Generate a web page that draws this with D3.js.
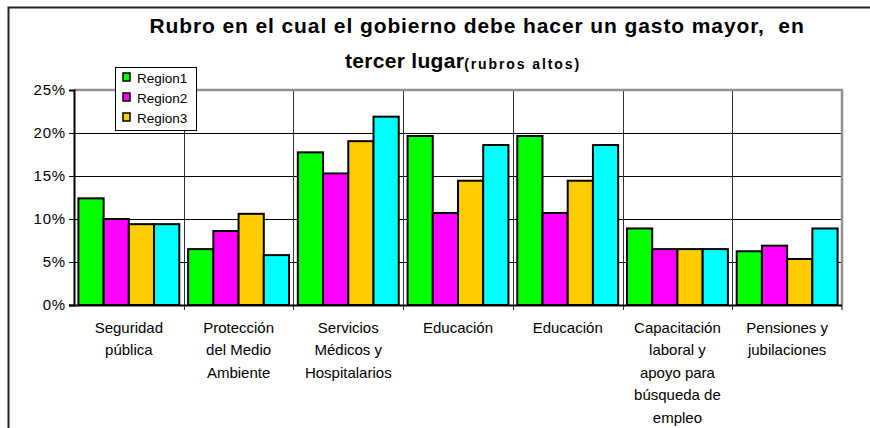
<!DOCTYPE html>
<html>
<head>
<meta charset="utf-8">
<script src="https://cdn.jsdelivr.net/npm/d3@7"></script>
<style>
  html, body { margin: 0; padding: 0; background: #fff; }
  svg { display: block; }
  text { font-family: "Liberation Sans", Arial, sans-serif; }
</style>
</head>
<body>
<script>
// Categories (x axis), one entry per group of bars
const categories = [
  ["Seguridad", "pública"],
  ["Protección", "del Medio", "Ambiente"],
  ["Servicios", "Médicos y", "Hospitalarios"],
  ["Educación"],
  ["Educación"],
  ["Capacitación", "laboral y", "apoyo para", "búsqueda de", "empleo"],
  ["Pensiones y", "jubilaciones"]
];

// Series values, in percent
const region1 = [12.4, 6.5, 17.75, 19.65, 19.65, 8.9, 6.25];
const region2 = [10.0, 8.6, 15.3, 10.7, 10.7, 6.5, 6.9];
const region3 = [9.4, 10.6, 19.05, 14.45, 14.45, 6.5, 5.35];
const region4 = [9.4, 5.8, 21.9, 18.6, 18.6, 6.5, 8.9];

const seriesNames = ["Region1", "Region2", "Region3", "Region4"];
const seriesColors = ["#00ff00", "#ff00ff", "#ffcc00", "#00ffff"];
const legendNames = ["Region1", "Region2", "Region3"];

const yTicks = [0, 5, 10, 15, 20, 25];

const W = 870, H = 428;
const plot = { left: 74, right: 842, top: 90, bottom: 305 };

const svg = d3.select("body").append("svg")
  .attr("width", W).attr("height", H);

// outer frame
svg.append("path")
  .attr("d", `M8.5,${H + 2} L8.5,7.5 L${W + 2},7.5`)
  .attr("fill", "none").attr("stroke", "#222").attr("stroke-width", 2);

const series = [region1, region2, region3, region4];
const idx = d3.range(categories.length);

const x0 = d3.scaleBand().domain(idx)
  .range([plot.left, plot.right]).paddingInner(0).paddingOuter(0);
const x1 = d3.scaleBand().domain(d3.range(series.length))
  .range([0, x0.bandwidth()]).paddingInner(0).paddingOuter(0.175);
const y = d3.scaleLinear().domain([0, 25]).range([plot.bottom, plot.top]);

// horizontal gridlines
svg.append("g").selectAll("line").data(yTicks.filter(t => t > 0 && t < 25)).join("line")
  .attr("x1", plot.left).attr("x2", plot.right)
  .attr("y1", d => Math.round(y(d)) + 0.5).attr("y2", d => Math.round(y(d)) + 0.5)
  .attr("stroke", "#000").attr("stroke-width", 1);

// vertical category separators
svg.append("g").selectAll("line").data(idx.slice(1)).join("line")
  .attr("x1", d => Math.round(x0(d)) + 0.5).attr("x2", d => Math.round(x0(d)) + 0.5)
  .attr("y1", plot.top).attr("y2", plot.bottom + 5)
  .attr("stroke", "#333").attr("stroke-width", 1);

// plot area border (top and right)
svg.append("path")
  .attr("d", `M${plot.left},${plot.top} L${plot.right},${plot.top} L${plot.right},${plot.bottom}`)
  .attr("fill", "none").attr("stroke", "#909090").attr("stroke-width", 2.5);

// bars
const groups = svg.append("g").selectAll("g").data(idx).join("g")
  .attr("transform", d => `translate(${x0(d)},0)`);
groups.selectAll("rect")
  .data(c => series.map((s, k) => ({ k, v: s[c] })))
  .join("rect")
  .attr("x", d => x1(d.k))
  .attr("width", x1.bandwidth())
  .attr("y", d => y(d.v))
  .attr("height", d => y(0) - y(d.v))
  .attr("fill", d => seriesColors[d.k])
  .attr("stroke", "#000").attr("stroke-width", 2);

// y axis
const yAxis = d3.axisLeft(y).tickValues(yTicks).tickFormat(d => d + "%").tickSize(5).tickPadding(3);
const gy = svg.append("g").attr("transform", `translate(${plot.left},0)`).call(yAxis);
gy.select(".domain").attr("stroke", "#000").attr("stroke-width", 2);
gy.selectAll(".tick line").attr("stroke", "#000");
gy.selectAll(".tick text").attr("font-size", 15).attr("fill", "#000")
  .style("font-family", "'Liberation Sans', Arial, sans-serif").attr("letter-spacing", 0.8);

// x axis line
svg.append("line")
  .attr("x1", plot.left - 5).attr("x2", plot.right)
  .attr("y1", plot.bottom + 0.5).attr("y2", plot.bottom + 0.5)
  .attr("stroke", "#000").attr("stroke-width", 2);
svg.append("line")
  .attr("x1", plot.right).attr("x2", plot.right)
  .attr("y1", plot.bottom).attr("y2", plot.bottom + 5)
  .attr("stroke", "#000").attr("stroke-width", 1);

// category labels
const lab = svg.append("g").selectAll("text").data(idx).join("text")
  .attr("text-anchor", "middle")
  .attr("font-size", 15)
  .attr("fill", "#000")
  .attr("x", d => x0(d) + x0.bandwidth() / 2)
  .attr("y", 333);
lab.selectAll("tspan").data(d => categories[d].map(t => ({ t, x: x0(d) + x0.bandwidth() / 2 })))
  .join("tspan")
  .attr("x", d => d.x)
  .attr("dy", (d, i) => i === 0 ? 0 : 22.4)
  .text(d => d.t);

// title
const title = svg.append("g").attr("font-weight", "bold").attr("fill", "#000");
title.append("text").attr("x", 477).attr("y", 33).attr("text-anchor", "middle")
  .attr("font-size", 21).attr("letter-spacing", 0.9).style("white-space", "pre")
  .text("Rubro en el cual el gobierno debe hacer un gasto mayor,  en");
const t2 = title.append("text").attr("x", 463).attr("y", 68).attr("text-anchor", "middle")
  .attr("font-size", 21).attr("letter-spacing", 0.3);
t2.append("tspan").text("tercer lugar");
t2.append("tspan").attr("font-size", 14).attr("dy", 1).attr("letter-spacing", 1.9).text("(rubros altos)");

// legend
const lg = svg.append("g").attr("transform", "translate(115,67)");
lg.append("rect").attr("x", 0.5).attr("y", 0.5).attr("width", 81).attr("height", 63)
  .attr("fill", "#fff").attr("stroke", "#000").attr("stroke-width", 1);
const li = lg.selectAll("g.item").data(legendNames).join("g").attr("class", "item")
  .attr("transform", (d, i) => `translate(8,${6 + i * 20})`);
li.append("rect").attr("x", 0).attr("y", 0).attr("width", 7).attr("height", 8)
  .attr("fill", (d, i) => seriesColors[i]).attr("stroke", "#000").attr("stroke-width", 1.5);
li.append("text").attr("x", 14).attr("y", 9.5).attr("font-size", 13.5).attr("fill", "#000").text(d => d);
</script>
</body>
</html>
